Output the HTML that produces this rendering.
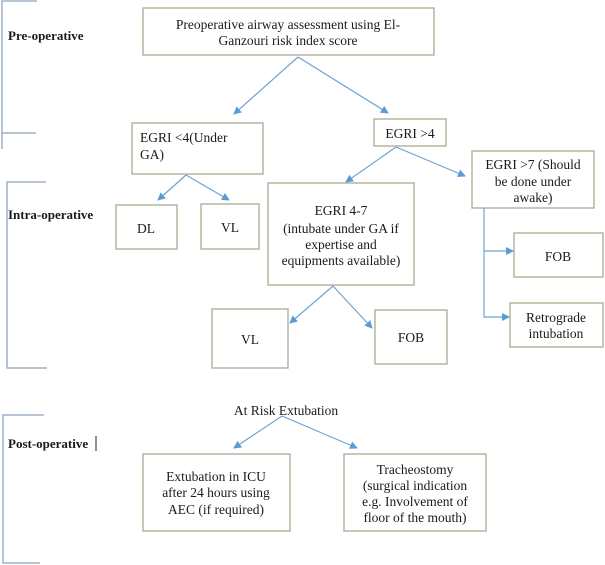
<!DOCTYPE html>
<html><head><style>
html,body{margin:0;padding:0;background:#fff;}
svg{display:block;}
text{font-family:"Liberation Serif",serif;fill:#1a1a1a;}
.b{font-weight:bold;font-size:13px;}
.t{font-size:13.5px;}
</style></head><body>
<svg width="605" height="565" viewBox="0 0 605 565" xmlns="http://www.w3.org/2000/svg">
<defs><marker id="a" markerWidth="8" markerHeight="8" refX="7" refY="4" orient="auto" markerUnits="userSpaceOnUse"><path d="M0,0 L8,4 L0,8 z" fill="#5b9bd5"/></marker></defs>
<g stroke="#9fb0c6" stroke-width="1.5" fill="none">
<path d="M37,1 H2 V149"/><path d="M2,133 H36"/>
<path d="M46,182 H7 V368 H47"/>
<path d="M44,415 H3 V563 H40"/>
</g>
<text class="b" x="8" y="40">Pre-operative</text>
<text class="b" x="8" y="219">Intra-operative</text>
<text class="b" x="8" y="448">Post-operative</text>
<line x1="96" y1="436" x2="96" y2="451" stroke="#222" stroke-width="1"/>
<g fill="#fff" stroke="#a9ab90" stroke-width="1.3">
<rect x="143" y="8" width="291" height="47"/>
<rect x="132" y="123" width="131" height="51"/>
<rect x="374" y="119" width="72" height="27"/>
<rect x="472" y="151" width="122" height="57"/>
<rect x="116" y="205" width="61" height="44"/>
<rect x="201" y="204" width="58" height="45"/>
<rect x="268" y="183" width="146" height="102"/>
<rect x="514" y="233" width="89" height="44"/>
<rect x="212" y="309" width="76" height="59"/>
<rect x="375" y="310" width="72" height="54"/>
<rect x="510" y="303" width="93" height="44"/>
<rect x="143" y="454" width="147" height="77"/>
<rect x="344" y="454" width="142" height="77"/>
</g>
<g stroke="#6fa3d3" stroke-width="1.2" fill="none" marker-end="url(#a)">
<line x1="298" y1="57" x2="234" y2="114"/>
<line x1="298" y1="57" x2="388" y2="113"/>
<line x1="396" y1="147" x2="346" y2="182"/>
<line x1="396" y1="147" x2="465" y2="176"/>
<line x1="186" y1="175" x2="158" y2="200"/>
<line x1="186" y1="175" x2="229" y2="200"/>
<line x1="333" y1="286" x2="290" y2="323"/>
<line x1="333" y1="286" x2="372" y2="328"/>
<path d="M484,208 V251 H513"/>
<path d="M484,251 V317 H509"/>
<line x1="282" y1="416" x2="234" y2="448"/>
<line x1="282" y1="416" x2="357" y2="448"/>
</g>
<g class="t" text-anchor="middle">
<text x="288" y="29">Preoperative airway assessment using El-</text>
<text x="288" y="45">Ganzouri risk index score</text>
<text x="140" y="142" text-anchor="start">EGRI &lt;4(Under</text>
<text x="140" y="159" text-anchor="start">GA)</text>
<text x="410" y="138">EGRI &gt;4</text>
<text x="533" y="169">EGRI &gt;7 (Should</text>
<text x="533" y="186">be done under</text>
<text x="533" y="202">awake)</text>
<text x="146" y="233">DL</text>
<text x="230" y="232">VL</text>
<text x="341" y="215">EGRI 4-7</text>
<text x="341" y="233">(intubate under GA if</text>
<text x="341" y="249">expertise and</text>
<text x="341" y="265">equipments available)</text>
<text x="558" y="261">FOB</text>
<text x="250" y="344">VL</text>
<text x="411" y="342">FOB</text>
<text x="556" y="322">Retrograde</text>
<text x="556" y="338">intubation</text>
<text x="286" y="415">At Risk Extubation</text>
<text x="216" y="481">Extubation in ICU</text>
<text x="216" y="497">after 24 hours using</text>
<text x="216" y="514">AEC (if required)</text>
<text x="415" y="474">Tracheostomy</text>
<text x="415" y="490">(surgical indication</text>
<text x="415" y="506">e.g. Involvement of</text>
<text x="415" y="522">floor of the mouth)</text>
</g>
</svg>
</body></html>
